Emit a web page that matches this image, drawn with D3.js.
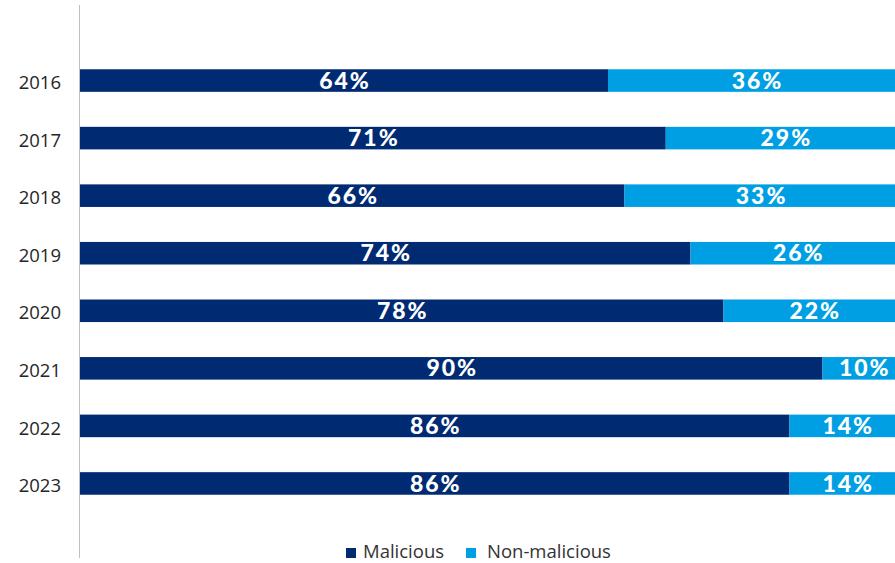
<!DOCTYPE html>
<html>
<head>
<meta charset="utf-8">
<script src="https://cdn.jsdelivr.net/npm/d3@7"></script>
<style>
  html, body { margin: 0; padding: 0; background: #fff; }
  svg { display: block; }
</style>
</head>
<body>
<svg id="chart" width="895" height="563"></svg>
<script>
// Share of incidents by cause, per year (percent)
const years = ["2016", "2017", "2018", "2019", "2020", "2021", "2022", "2023"];
const malicious = [64, 71, 66, 74, 78, 90, 86, 86];
const nonMalicious = [36, 29, 33, 26, 22, 10, 14, 14];
const seriesNames = ["Malicious", "Non-malicious"];
const seriesColors = ["#002b73", "#009fe3"];

const svg = d3.select("#chart");

// 100% spans wider than the visible area; the right end is clipped by the frame
const x = d3.scaleLinear().domain([0, 100]).range([80, 905]);
const y = d3.scaleBand().domain(years).range([52, 512]).paddingInner(0.608).paddingOuter(0.3);

const rows = years.map((yr, i) => ({ year: yr, values: [malicious[i], nonMalicious[i]] }));
const stack = d3.stack().keys([0, 1]).value((d, k) => d.values[k]);
const layers = stack(rows);

const plot = svg.append("g");

layers.forEach((layer, k) => {
  plot.selectAll(null)
    .data(layer)
    .join("rect")
    .attr("x", d => x(d[0]))
    .attr("y", d => y(d.data.year))
    .attr("width", d => x(d[1]) - x(d[0]))
    .attr("height", y.bandwidth())
    .attr("fill", seriesColors[k]);

  plot.selectAll(null)
    .data(layer)
    .join("text")
    .attr("x", d => (x(d[0]) + x(d[1])) / 2 + 1)
    .attr("y", d => y(d.data.year) + y.bandwidth() / 2)
    .attr("dy", "0.35em")
    .attr("text-anchor", "middle")
    .attr("fill", "#fff")
    .attr("font-family", "Lato, sans-serif")
    .attr("font-weight", 900)
    .attr("font-size", 23)
    .attr("letter-spacing", "2px")
    .text(d => d.data.values[k] + "%");
});

// Category axis: plain vertical rule with year labels
svg.append("line")
  .attr("x1", 79.5).attr("x2", 79.5)
  .attr("y1", 5).attr("y2", 558)
  .attr("stroke", "#bfbfbf").attr("stroke-width", 1);

svg.append("g").selectAll("text")
  .data(years)
  .join("text")
  .attr("x", 61)
  .attr("y", d => y(d) + y.bandwidth() / 2 + 2)
  .attr("dy", "0.36em")
  .attr("text-anchor", "end")
  .attr("fill", "#262626")
  .attr("font-family", "'Open Sans', sans-serif")
  .attr("font-size", 18.5)
  .text(d => d);

// Legend
const legend = svg.append("g").attr("font-family", "'Open Sans', sans-serif").attr("font-size", 18.5).attr("fill", "#333");
const legendBoxX = [346, 466];
const legendTextX = [363, 487];
seriesNames.forEach((name, k) => {
  legend.append("rect")
    .attr("x", legendBoxX[k]).attr("y", 548)
    .attr("width", 10).attr("height", 10)
    .attr("fill", seriesColors[k]);
  legend.append("text")
    .attr("x", legendTextX[k]).attr("y", 557.5)
    .text(name);
});
</script>
</body>
</html>
